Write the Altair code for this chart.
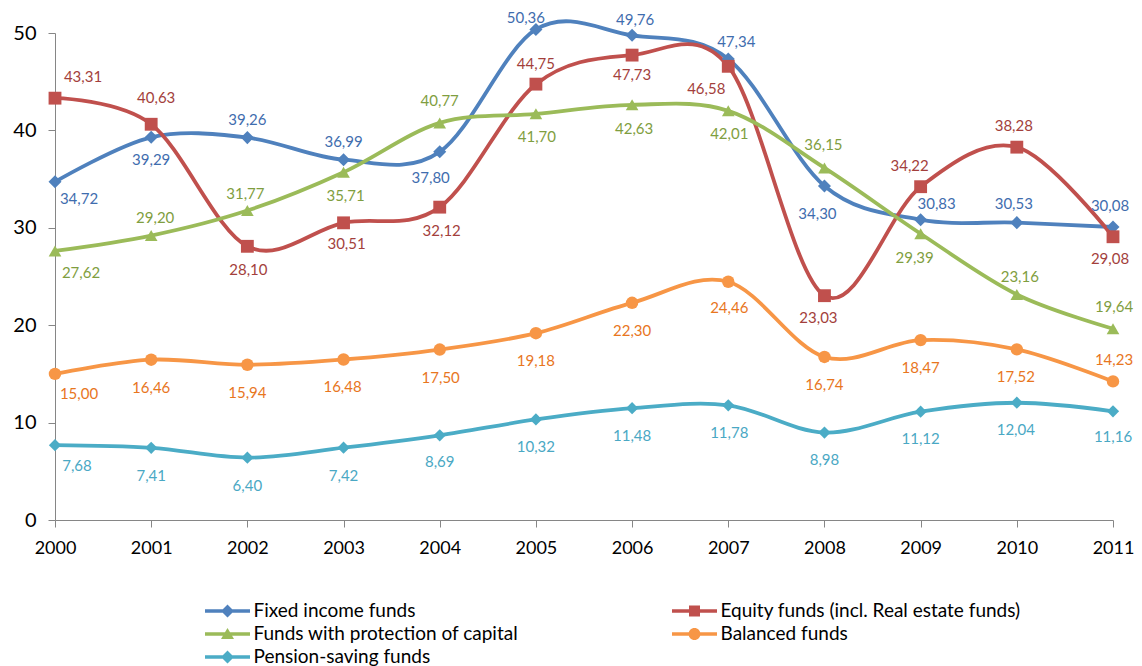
import altair as alt
import pandas as pd

# ---------------- data ----------------
years = list(range(2000, 2012))
series_names = [
    "Fixed income funds",
    "Equity funds (incl. Real estate funds)",
    "Funds with protection of capital",
    "Balanced funds",
    "Pension-saving funds",
]
fixed_income = [34.72, 39.29, 39.26, 36.99, 37.80, 50.36, 49.76, 47.34, 34.30, 30.83, 30.53, 30.08]
equity = [43.31, 40.63, 28.10, 30.51, 32.12, 44.75, 47.73, 46.58, 23.03, 34.22, 38.28, 29.08]
protection = [27.62, 29.20, 31.77, 35.71, 40.77, 41.70, 42.63, 42.01, 36.15, 29.39, 23.16, 19.64]
balanced = [15.00, 16.46, 15.94, 16.48, 17.50, 19.18, 22.30, 24.46, 16.74, 18.47, 17.52, 14.23]
pension = [7.68, 7.41, 6.40, 7.42, 8.69, 10.32, 11.48, 11.78, 8.98, 11.12, 12.04, 11.16]
y_ticks = [0, 10, 20, 30, 40, 50]

# ---------------- styling ----------------
line_colors = ["#4F81BD", "#C0504D", "#9BBB59", "#F79646", "#4BACC6"]
label_colors = ["#3F6DAE", "#A33F3C", "#7F9E40", "#E8761E", "#4AA8C4"]
marker_shapes = ["diamond", "square", "triangle-up", "circle", "diamond"]
marker_sizes = [170, 150, 210, 190, 170]

# label nudges (pixels) for each point's value label
label_dx = [
    [24, 0, 0, 0, -9, -10, 3, 8, -7, 16, -3, -3],
    [28, 5, 1, 3, 2, 0, 0, -22, -6, -11, -3, -3],
    [26, 4, -2, 2, 0, 1, 2, 1, -1, -6, 3, 1],
    [24, 0, 0, -1, 1, 0, 0, 1, 0, 0, -1, 1],
    [22, 0, 0, 0, 0, 0, 0, 1, 0, 0, -1, 0],
]
label_dy = [
    [17, 23, -18, -18, 26, -11, -15, -17, 28, -16, -19, -21],
    [-21, -26, 24, 21, 24, -20, 20, 23, 22, -21, -21, 22],
    [22, -18, -17, 24, -22, 23, 24, 23, -23, 24, -17, -22],
    [20, 28, 28, 28, 28, 28, 28, 26, 28, 28, 28, -21],
    [21, 28, 28, 28, 27, 28, 28, 28, 27, 27, 27, 26],
]

# legend symbols: line segment + marker (custom SVG paths)
seg = "M-2.25,-0.17H2.25V0.17H-2.25Z "
legend_paths = [
    seg + "M0,-0.65L0.65,0L0,0.65L-0.65,0Z",
    seg + "M-0.55,-0.55H0.55V0.55H-0.55Z",
    seg + "M0,-0.6L0.65,0.5L-0.65,0.5Z",
    seg + "M-0.6,0A0.6,0.6 0 1,1 0.6,0A0.6,0.6 0 1,1 -0.6,0Z",
    seg + "M0,-0.65L0.65,0L0,0.65L-0.65,0Z",
]

all_values = [fixed_income, equity, protection, balanced, pension]
rows = []
for si, name in enumerate(series_names):
    for yi, yr in enumerate(years):
        rows.append({
            "series": name,
            "year": yr,
            "value": all_values[si][yi],
            "ldx": label_dx[si][yi],
            "ldy": label_dy[si][yi],
        })
df = pd.DataFrame(rows)

FONT = "Lato"
axis_color = "#868686"

x_enc = alt.X(
    "year:Q",
    scale=alt.Scale(domain=[2000, 2011], nice=False, zero=False),
    axis=alt.Axis(
        values=years, format="d", title=None, grid=False,
        domainColor=axis_color, tickColor=axis_color, tickSize=7,
        labelFont=FONT, labelFontSize=18, labelColor="#000000",
        labelPadding=12, labelFlush=False, labelOverlap=False,
    ),
)
y_enc = alt.Y(
    "value:Q",
    scale=alt.Scale(domain=[0, 50], nice=False),
    axis=alt.Axis(
        values=y_ticks, title=None, grid=False,
        domainColor=axis_color, tickColor=axis_color, tickSize=7,
        labelFont=FONT, labelFontSize=20, labelColor="#000000",
        labelPadding=12,
    ),
)

base = alt.Chart(df)

lines = base.mark_line(interpolate="cardinal", strokeWidth=3.8).encode(
    x=x_enc, y=y_enc,
    color=alt.Color("series:N", scale=alt.Scale(domain=series_names, range=line_colors), legend=None),
)

points = base.mark_point(filled=True, opacity=1).encode(
    x=x_enc, y=y_enc,
    color=alt.Color("series:N", scale=alt.Scale(domain=series_names, range=line_colors), legend=None),
    shape=alt.Shape("series:N", scale=alt.Scale(domain=series_names, range=marker_shapes), legend=None),
    size=alt.Size("series:N", scale=alt.Scale(domain=series_names, range=marker_sizes), legend=None),
)

labels = base.transform_calculate(
    txt="replace(format(datum.value, '.2f'), '.', ',')"
).mark_text(
    font=FONT, fontSize=15, align="center", baseline="middle",
    dx={"expr": "datum.ldx"}, dy={"expr": "datum.ldy"},
).encode(
    x=x_enc, y=y_enc, text="txt:N",
    color=alt.Color("series:N", scale=alt.Scale(domain=series_names, range=label_colors), legend=None),
)

leg = alt.Legend(
    title=None, orient="none", legendX=150, legendY=568, columns=2,
    direction="horizontal",
    columnPadding=153, rowPadding=3, symbolSize=400, symbolOffset=12.5,
    labelOffset=16, symbolStrokeWidth=0, labelFont=FONT, labelFontSize=19,
    labelColor="#000000", labelLimit=500,
)
legend_layer = base.transform_filter("false").mark_point(filled=True, opacity=1).encode(
    x=x_enc, y=y_enc,
    color=alt.Color("series:N", scale=alt.Scale(domain=series_names, range=line_colors), legend=leg),
    shape=alt.Shape("series:N", scale=alt.Scale(domain=series_names, range=legend_paths), legend=leg),
)

chart = alt.layer(lines, points, labels, legend_layer).resolve_scale(
    color="independent", shape="independent", size="independent"
).properties(
    width=1058, height=487,
    autosize=alt.AutoSizeParams(type="none"),
    padding={"left": 47, "top": 25, "right": 21, "bottom": 148},
).configure_view(stroke=None)

chart.save("out.html", embed_options={"renderer": "svg", "actions": False})
